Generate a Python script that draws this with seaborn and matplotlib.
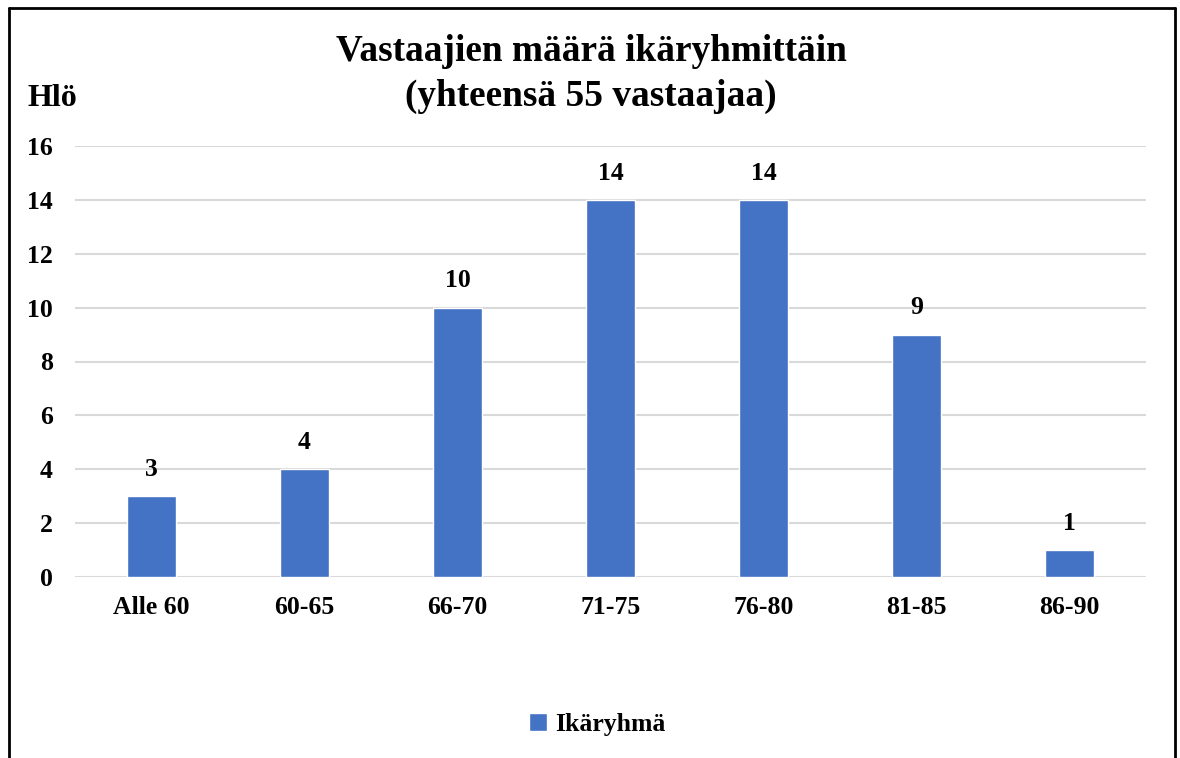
import matplotlib
matplotlib.use("Agg")
import matplotlib.pyplot as plt
import seaborn as sns
from matplotlib.lines import Line2D

categories = ["Alle 60", "60-65", "66-70", "71-75", "76-80", "81-85", "86-90"]
values = [3, 4, 10, 14, 14, 9, 1]
series_name = "Ikäryhmä"
title = "Vastaajien määrä ikäryhmittäin\n(yhteensä 55 vastaajaa)"
y_label = "Hlö"
y_ticks = [0, 2, 4, 6, 8, 10, 12, 14, 16]

sns.set_style("white")
plt.rcParams["font.family"] = ["Liberation Serif", "DejaVu Serif"]
plt.rcParams["font.weight"] = "bold"
plt.rcParams["text.color"] = "black"
plt.rcParams["xtick.color"] = "black"
plt.rcParams["ytick.color"] = "black"
plt.rcParams["axes.labelcolor"] = "black"

W, H = 1180, 758
fig = plt.figure(figsize=(W / 100, H / 100), dpi=100)
ax = fig.add_axes([75 / W, 1 - 577 / H, (1146 - 75) / W, (577 - 146) / H])

bar_color = "#4472C4"
sns.barplot(x=categories, y=values, color=bar_color, width=0.314, ax=ax,
            label=series_name, saturation=1)

ax.set_ylim(0, 16)
ax.set_xlim(-0.5, len(categories) - 0.5)
ax.set_yticks(y_ticks)
ax.set_yticklabels([str(t) for t in y_ticks], fontsize=18.5, fontweight="bold", color="black")
ax.tick_params(axis="y", length=0, pad=16)
ax.tick_params(axis="x", length=0, pad=14, labelsize=18.5, labelcolor="black")
for lbl in ax.get_xticklabels():
    lbl.set_fontweight("bold")
ax.set_xlabel("")
ax.set_ylabel("")
ax.yaxis.grid(True, color="#d9d9d9", linewidth=1.5)
ax.set_axisbelow(True)
for s in ax.spines.values():
    s.set_visible(False)

ax.bar_label(ax.containers[0], labels=[str(v) for v in values], padding=11,
             fontsize=18.5, fontweight="bold", color="black")

fig.text(591 / W, 1 - 74 / H, title, ha="center", va="center",
         fontsize=26.8, fontweight="bold", linespacing=1.36, color="black")
fig.text(27 / W, 1 - 99 / H, y_label, ha="left", va="center",
         fontsize=23, fontweight="bold", color="black")

leg = ax.legend(loc="center", bbox_to_anchor=(597 / W, 1 - 724 / H),
                bbox_transform=fig.transFigure, frameon=False,
                prop={"size": 18.5, "weight": "bold"},
                handlelength=0.7, handleheight=0.7, handletextpad=0.3,
                labelcolor="black")

# figure border (left, top, right)
lw = 2
fig.add_artist(Line2D([8.5 / W, 8.5 / W], [0, 1 - 8 / H], color="black", linewidth=lw, transform=fig.transFigure))
fig.add_artist(Line2D([8.5 / W, 1174.5 / W], [1 - 8 / H, 1 - 8 / H], color="black", linewidth=lw, transform=fig.transFigure))
fig.add_artist(Line2D([1174.5 / W, 1174.5 / W], [0, 1 - 8 / H], color="black", linewidth=lw, transform=fig.transFigure))

fig.savefig("out.png", dpi=100)
